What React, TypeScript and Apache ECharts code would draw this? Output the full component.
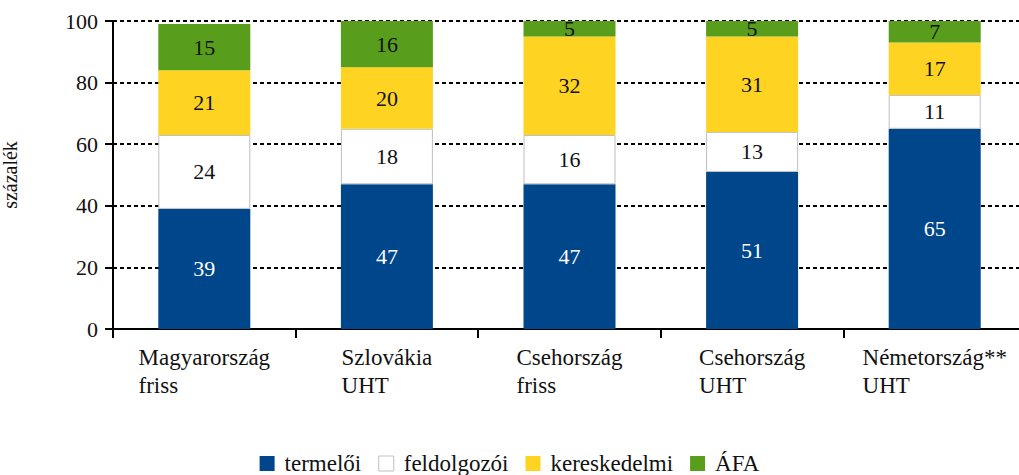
import React, { useEffect, useRef } from "react";
import * as echarts from "echarts";

const categories = ["Magyarország\nfriss", "Szlovákia\nUHT", "Csehország\nfriss", "Csehország\nUHT", "Németország**\nUHT"];
const seriesNames = ["termelői", "feldolgozói", "kereskedelmi", "ÁFA"];
const termeloi = [39, 47, 47, 51, 65];
const feldolgozoi = [24, 18, 16, 13, 11];
const kereskedelmi = [21, 20, 32, 31, 17];
const afa = [15, 16, 5, 5, 7];
const yTicks = [0, 20, 40, 60, 80, 100];

const FONT = "'Liberation Serif', 'Times New Roman', serif";

export default function App() {
  const ref = useRef<HTMLDivElement>(null);
  useEffect(() => {
    if (!ref.current) return;
    const chart = echarts.init(ref.current, null, { renderer: "svg" });
    const colors = ["#00468b", "#ffffff", "#fed321", "#589e1c"];
    const data = [termeloi, feldolgozoi, kereskedelmi, afa];
    const series = data.map((d, i) => ({
      name: seriesNames[i],
      type: "bar",
      stack: "total",
      barWidth: 92,
      data: d,
      itemStyle: i === 1
        ? { color: colors[i], borderColor: "#bfbfbf", borderWidth: 1 }
        : { color: colors[i] },
      label: {
        show: true,
        position: "inside",
        color: i === 0 ? "#ffffff" : "#111111",
        fontFamily: FONT,
        fontSize: 22,
      },
    }));
    chart.setOption({
      animation: false,
      textStyle: { fontFamily: FONT },
      grid: { left: 113, right: -7, top: 21, bottom: 146, containLabel: false, outerBoundsMode: "none" },
      legend: {
        top: 447,
        left: "center",
        icon: "rect",
        itemWidth: 15,
        itemHeight: 15,
        itemGap: 17,
        textStyle: { fontFamily: FONT, fontSize: 23, color: "#111", padding: [0, 0, 0, 5] },
        data: seriesNames.map((n, i) =>
          i === 1
            ? { name: n, itemStyle: { color: "#fff", borderColor: "#bfbfbf", borderWidth: 1 } }
            : { name: n }
        ),
      },
      color: colors,
      xAxis: {
        type: "category",
        data: categories,
        axisLine: { show: true, lineStyle: { color: "#000", width: 2 } },
        axisTick: { show: true, length: 9, lineStyle: { color: "#000", width: 2 } },
        axisLabel: {
          margin: 14,
          formatter: (v: string) => v.split("\n").map((s) => `{a|${s}}`).join("\n"),
          rich: {
            a: { align: "left", fontFamily: FONT, fontSize: 23, color: "#111", lineHeight: 28 },
          },
        },
      },
      yAxis: {
        type: "value",
        min: yTicks[0],
        max: yTicks[yTicks.length - 1],
        interval: 20,
        name: "százalék",
        nameLocation: "middle",
        nameGap: 93,
        nameRotate: 90,
        nameTextStyle: { fontFamily: FONT, fontSize: 20, color: "#111" },
        axisLine: { show: true, lineStyle: { color: "#000", width: 2 } },
        axisTick: { show: true, length: 8, inside: false, lineStyle: { color: "#000", width: 2 } },
        axisLabel: { margin: 15, fontFamily: FONT, fontSize: 22, color: "#111" },
        splitLine: { show: true, lineStyle: { color: "#000", width: 2, type: [4, 3] } },
      },
      series,
    });
    return () => chart.dispose();
  }, []);
  return (
    <div
      ref={ref}
      style={{ position: "absolute", left: 0, top: 0, width: 1019, height: 475 }}
    />
  );
}
